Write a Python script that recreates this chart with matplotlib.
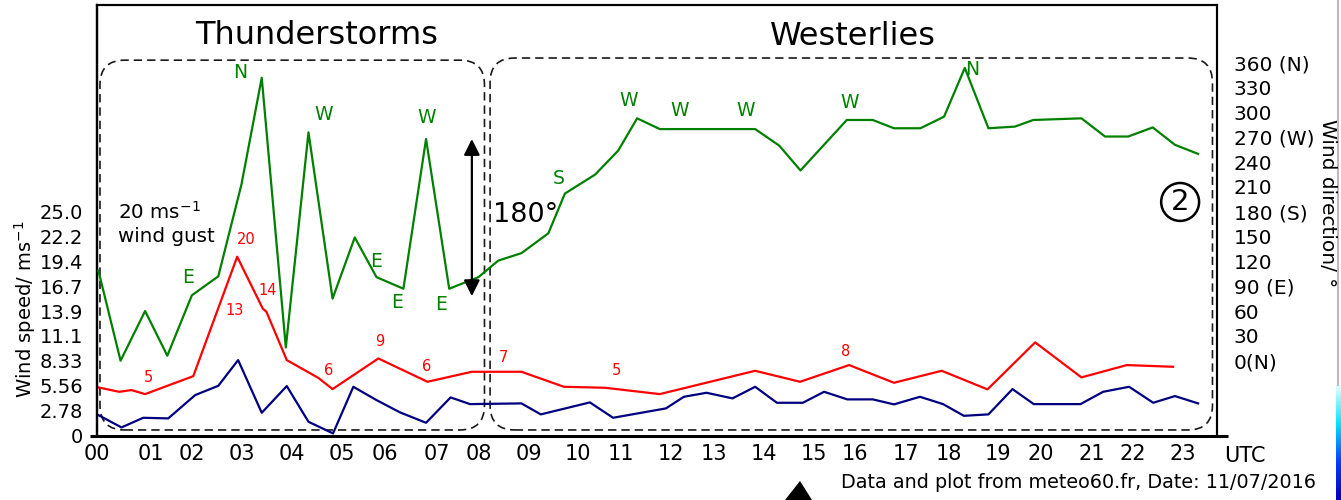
import matplotlib
matplotlib.use('Agg')
import numpy as np
import matplotlib.pyplot as plt
from matplotlib.patches import FancyBboxPatch, Polygon
from matplotlib.lines import Line2D
from matplotlib.colors import LinearSegmentedColormap

# ---------------- data ----------------
# wind direction (degrees) vs time (hours UTC)
dir_t = [0.03, 0.50, 1.02, 1.49, 2.01, 2.57, 3.06, 3.49, 4.00, 4.48, 4.99, 5.46,
         5.92, 6.49, 6.97, 7.46, 8.08, 8.50, 8.99, 9.56, 9.91, 10.55, 11.04, 11.44,
         11.92, 13.94, 14.45, 14.90, 15.88, 16.43, 16.88, 17.44, 17.94, 18.38,
         18.88, 19.44, 19.83, 20.85, 21.35, 21.84, 22.36, 22.83, 23.32]
dir_deg = [109, 0, 60, 6, 79, 102, 213, 342, 16, 276, 75, 149,
           101, 87, 268, 87, 101, 121, 130, 154, 202, 225, 254, 293,
           280, 280, 260, 230, 291, 291, 281, 281, 295, 354,
           281, 283, 291, 293, 271, 271, 282, 261, 250]

# wind gust (m/s)
gust_t = [0.03, 0.47, 0.73, 1.02, 2.04, 2.97, 3.51, 3.59, 4.02, 4.69, 4.99, 5.96,
          7.00, 7.94, 8.99, 9.89, 10.76, 11.92, 13.94, 14.89, 15.93, 16.88, 17.89,
          18.86, 19.87, 20.85, 21.81, 22.79]
gust = [5.34, 4.85, 5.04, 4.59, 6.6, 19.97, 14.18, 13.8, 8.4, 6.4, 5.15, 8.58,
        5.97, 7.09, 7.09, 5.41, 5.3, 4.59, 7.2, 5.97, 7.84, 5.86, 7.2,
        5.12, 10.38, 6.46, 7.84, 7.65]

# mean wind speed (m/s)
mean_t = [0.03, 0.52, 0.98, 1.51, 2.08, 2.57, 2.99, 3.49, 4.02, 4.48, 5.00, 5.43,
          5.92, 6.42, 6.97, 7.49, 7.90, 8.99, 9.40, 10.44, 10.93, 12.05, 12.43,
          12.91, 13.46, 13.94, 14.40, 14.95, 15.40, 15.89, 16.43, 16.88, 17.43,
          17.92, 18.36, 18.88, 19.39, 19.84, 20.83, 21.31, 21.86, 22.37, 22.83, 23.32]
mean = [2.24, 0.86, 1.94, 1.87, 4.48, 5.52, 8.4, 2.5, 5.49, 1.49, 0.19, 5.41,
        3.92, 2.54, 1.38, 4.22, 3.47, 3.55, 2.32, 3.66, 1.94, 2.99, 4.29,
        4.74, 4.11, 5.41, 3.62, 3.62, 4.85, 4.0, 4.0, 3.44, 4.29,
        3.47, 2.16, 2.32, 5.15, 3.47, 3.47, 4.85, 5.41, 3.62, 4.37, 3.55]

# tick labels
hour_labels = ['00', '01', '02', '03', '04', '05', '06', '07', '08', '09', '10', '11',
               '12', '13', '14', '15', '16', '17', '18', '19', '20', '21', '22', '23']
hour_pos = [0.0, 1.14, 2.02, 3.06, 4.13, 5.19, 6.09, 7.19, 8.08, 9.15, 10.19, 11.10,
            12.16, 13.07, 14.13, 15.19, 16.06, 17.14, 18.04, 19.08, 19.99, 21.07, 21.94, 23.0]
speed_ticks = [0, 2.778, 5.556, 8.333, 11.11, 13.89, 16.67, 19.44, 22.22, 25.0]
speed_labels = ['0', '2.78', '5.56', '8.33', '11.1', '13.9', '16.7', '19.4', '22.2', '25.0']
dir_ticks = [0, 30, 60, 90, 120, 150, 180, 210, 240, 270, 300, 330, 360]
dir_labels = ['0(N)', '30', '60', '90 (E)', '120', '150', '180 (S)', '210', '240',
              '270 (W)', '300', '330', '360 (N)']

# direction letters (time, degrees, letter)
dir_notes_t = [3.03, 1.92, 4.79, 5.92, 6.36, 6.98, 7.29, 9.77, 11.25, 12.35, 13.74, 15.93, 18.54]
dir_notes_d = [348, 100.6, 298, 120, 70.4, 293.8, 68.5, 220.7, 314, 302.8, 302.8, 312, 352.3]
dir_notes = ['N', 'E', 'W', 'E', 'E', 'W', 'E', 'S', 'W', 'W', 'W', 'W', 'N']

# gust value labels (time, m/s, text)
gust_notes_t = [1.08, 2.92, 3.16, 3.62, 4.91, 5.99, 6.99, 8.60, 11.01, 15.86]
gust_notes_v = [6.5, 14.0, 21.95, 16.2, 7.2, 10.5, 7.65, 8.7, 7.2, 9.4]
gust_notes = ['5', '13', '20', '14', '6', '9', '6', '7', '5', '8']

GREEN = '#008000'
RED = '#ff0000'
NAVY = '#000080'

plt.rcParams['font.family'] = ['DejaVu Sans']

fig = plt.figure(figsize=(13.41, 5.0), dpi=100)
ax = fig.add_axes([0.0723, 0.128, 0.8352, 0.862])
ax.set_xlim(0, 23.72)
v0, v1 = -0.1, 48.15
ax.set_ylim(v0, v1)
ax2 = ax.twinx()
k = 30 / 2.7778
ax2.set_ylim((v0 - 8.333) * k, (v1 - 8.333) * k)

ax.plot(mean_t, mean, color=NAVY, lw=1.6, zorder=3)
ax.plot(gust_t, gust, color=RED, lw=1.6, zorder=3)
ax2.plot(dir_t, dir_deg, color=GREEN, lw=1.6, zorder=3)

for t, d, s in zip(dir_notes_t, dir_notes_d, dir_notes):
    ax2.text(t, d, s, color=GREEN, fontsize=13.5, ha='center', va='center')
for t, v, s in zip(gust_notes_t, gust_notes_v, gust_notes):
    ax.text(t, v, s, color=RED, fontsize=10.5, ha='center', va='center')

# ticks
ax.set_xticks(hour_pos)
ax.set_xticklabels(hour_labels, fontsize=15)
ax.set_yticks(speed_ticks)
ax.set_yticklabels(speed_labels, fontsize=14)
ax2.set_yticks(dir_ticks)
ax2.set_yticklabels(dir_labels, fontsize=14.5)
ax.tick_params(axis='x', length=0, pad=6)
ax.tick_params(axis='y', length=0, pad=10)
ax2.tick_params(axis='y', length=0, pad=12)

# spines
for a in (ax, ax2):
    a.spines['bottom'].set_visible(False)
    a.spines['left'].set_linewidth(1.6)
    a.spines['top'].set_linewidth(1.5)
    a.spines['right'].set_linewidth(1.5)
ax.add_line(Line2D([-0.0063, 1.0098], [0, 0], transform=ax.transAxes, color='black',
                   lw=2.2, clip_on=False, solid_capstyle='butt', zorder=5))

# axis titles
fig.text(25 / 1341, 1 - 309 / 500, 'Wind speed/ ms$^{-1}$', rotation=90,
         ha='center', va='center', fontsize=14)
fig.text(1328 / 1341, 1 - 203 / 500, 'Wind direction/ °', rotation=270,
         ha='center', va='center', fontsize=14.5)
fig.text(1245 / 1341, 1 - 456 / 500, 'UTC', ha='center', va='center', fontsize=15)
fig.text(1316 / 1341, 1 - 483 / 500, 'Data and plot from meteo60.fr, Date: 11/07/2016',
         ha='right', va='center', fontsize=13.8)

# dashed rounded regions
asp = 1120 / 431
for (x0, x1, y1) in [(0.0027, 0.346, 0.872), (0.351, 0.996, 0.877)]:
    p = FancyBboxPatch((x0, 0.014), x1 - x0, y1 - 0.014,
                       boxstyle='round,pad=0,rounding_size=0.022',
                       transform=ax.transAxes, mutation_aspect=asp, fill=False,
                       ec='#1a1a1a', lw=1.2, ls=(0, (5, 3)), zorder=2)
    ax.add_patch(p)

ax.text(0.196, 0.930, 'Thunderstorms', transform=ax.transAxes, fontsize=23,
        ha='center', va='center')
ax.text(0.675, 0.926, 'Westerlies', transform=ax.transAxes, fontsize=23,
        ha='center', va='center')

ax.text(0.44, 25.0, '20 ms$^{-1}$', fontsize=14.3, ha='left', va='center')
ax.text(0.44, 22.2, 'wind gust', fontsize=14.3, ha='left', va='center')
ax.text(8.39, 24.6, '180°', fontsize=19.5, ha='left', va='center')

ax2.annotate('', xy=(7.94, 268), xytext=(7.94, 78),
             arrowprops=dict(arrowstyle='<|-|>', color='black', lw=1.6,
                             mutation_scale=24, shrinkA=0, shrinkB=0))

ax.text(22.94, 26.1, '2', fontsize=21, ha='center', va='center',
        bbox=dict(boxstyle='circle,pad=0.17', fc='none', ec='black', lw=1.8))

# small artifacts at the bottom / right of the image
fig.patches.append(Polygon([[785 / 1341, 1 - 500 / 500], [800 / 1341, 1 - 481 / 500],
                            [812 / 1341, 1 - 500 / 500]], closed=True,
                           transform=fig.transFigure, fc='black', ec='none'))
fig.lines.append(Line2D([1338 / 1341, 1338 / 1341], [0.23, 1], transform=fig.transFigure,
                        color='#bbbbbb', lw=1.5))
strip_cmap = LinearSegmentedColormap.from_list('strip', ['#e0ffff', '#00e5ff', '#0040ff', '#0000c0'])
gax = fig.add_axes([1336 / 1341, 0, 5 / 1341, 0.23])
gax.imshow(np.linspace(0, 1, 50).reshape(-1, 1), aspect='auto', cmap=strip_cmap,
           origin='upper')
gax.set_axis_off()

fig.savefig('out.png', dpi=100)
